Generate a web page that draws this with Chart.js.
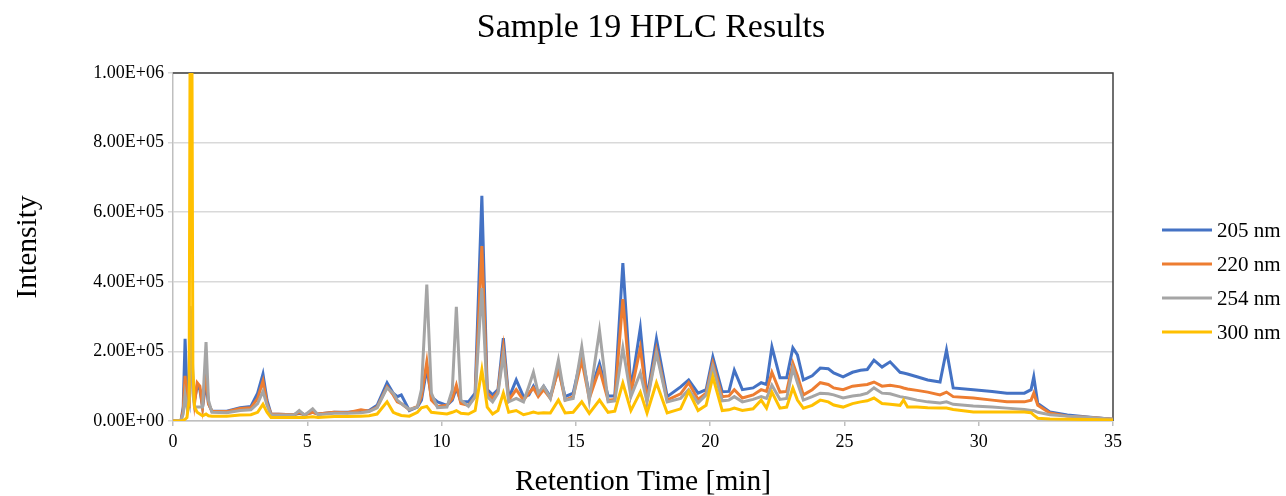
<!DOCTYPE html>
<html>
<head>
<meta charset="utf-8">
<title>Sample 19 HPLC Results</title>
<script src="https://cdn.jsdelivr.net/npm/chart.js@4.4.0/dist/chart.umd.min.js"></script>
<style>
  html, body { margin: 0; padding: 0; background: #fff; }
  #wrap { width: 1286px; height: 496px; }
</style>
</head>
<body>
<div id="wrap"><canvas id="hplcChart" width="1286" height="496"></canvas></div>
<script>
// retention time [min] of each sampled point
const retentionTime = [
  0.00, 0.30, 0.38, 0.45, 0.52, 0.60, 0.64, 0.70, 0.74, 0.80, 0.90,
  1.00, 1.10, 1.23, 1.32, 1.45, 2.00, 2.50, 2.90, 3.15, 3.35,
  3.50, 3.65, 4.50, 4.70, 4.90, 5.20, 5.40, 6.00, 6.50, 7.00,
  7.30, 7.60, 7.97, 8.20, 8.35, 8.50, 8.80, 9.10, 9.25, 9.45,
  9.62, 9.85, 10.20, 10.40, 10.55, 10.72, 11.00, 11.25, 11.50, 11.70,
  11.90, 12.10, 12.30, 12.50, 12.78, 13.05, 13.25, 13.42, 13.60, 13.80,
  14.05, 14.35, 14.60, 14.90, 15.22, 15.50, 15.88, 16.20, 16.45, 16.75,
  17.05, 17.40, 17.65, 18.00, 18.40, 18.90, 19.20, 19.55, 19.85, 20.10,
  20.45, 20.70, 20.90, 21.20, 21.60, 21.90, 22.10, 22.30, 22.60, 22.85,
  23.08, 23.25, 23.47, 23.80, 24.10, 24.40, 24.60, 24.95, 25.30, 25.60,
  25.85, 26.10, 26.40, 26.70, 27.07, 27.20, 27.35, 27.70, 28.10, 28.56,
  28.80, 29.05, 29.80, 30.50, 31.05, 31.70, 31.95, 32.05, 32.20, 32.65,
  33.30, 34.15, 35.00
];

const nm205 = [
  0, 2000, 40000, 236000, 90000, 60000, 250000, 250000, 120000, 60000, 100000,
  90000, 40000, 110000, 50000, 28000, 28000, 38000, 42000, 80000, 135000,
  60000, 20000, 18000, 22000, 18000, 25000, 20000, 25000, 25000, 28000,
  30000, 45000, 110000, 80000, 70000, 75000, 30000, 40000, 60000, 150000,
  70000, 55000, 45000, 60000, 95000, 55000, 55000, 80000, 647000, 90000,
  75000, 90000, 238000, 65000, 118000, 70000, 75000, 100000, 75000, 100000,
  70000, 150000, 70000, 80000, 190000, 75000, 165000, 72000, 72000, 454000,
  90000, 267000, 66000, 236000, 70000, 98000, 118000, 80000, 90000, 184000,
  84000, 85000, 146000, 90000, 95000, 110000, 105000, 213000, 124000, 124000,
  210000, 190000, 118000, 130000, 152000, 150000, 138000, 127000, 140000, 146000,
  148000, 175000, 155000, 170000, 140000, 138000, 135000, 127000, 118000, 112000,
  204000, 95000, 90000, 85000, 80000, 80000, 90000, 127000, 50000, 26000,
  17000, 11000, 5000
];

const nm220 = [
  0, 2000, 30000, 130000, 60000, 50000, 250000, 200000, 100000, 50000, 110000,
  100000, 40000, 140000, 50000, 28000, 27000, 36000, 38000, 65000, 115000,
  50000, 20000, 18000, 25000, 18000, 25000, 20000, 25000, 24000, 32000,
  28000, 40000, 98000, 75000, 55000, 50000, 32000, 42000, 70000, 170000,
  60000, 42000, 45000, 65000, 103000, 50000, 45000, 70000, 503000, 80000,
  65000, 85000, 210000, 60000, 90000, 60000, 80000, 95000, 70000, 90000,
  65000, 150000, 60000, 70000, 175000, 65000, 150000, 60000, 62000, 350000,
  80000, 210000, 60000, 205000, 60000, 78000, 110000, 62000, 80000, 166000,
  70000, 72000, 90000, 66000, 75000, 90000, 85000, 140000, 83000, 85000,
  166000, 130000, 75000, 90000, 110000, 105000, 95000, 90000, 100000, 103000,
  105000, 112000, 100000, 103000, 98000, 95000, 92000, 88000, 83000, 75000,
  83000, 70000, 66000, 60000, 55000, 55000, 60000, 80000, 45000, 23000,
  14000, 10000, 5000
];

const nm254 = [
  0, 2000, 20000, 75000, 40000, 60000, 330000, 250000, 80000, 40000, 40000,
  40000, 40000, 227000, 60000, 25000, 24000, 30000, 32000, 50000, 85000,
  45000, 17000, 17000, 30000, 17000, 35000, 18000, 22000, 22000, 24000,
  27000, 38000, 95000, 80000, 60000, 50000, 33000, 40000, 90000, 392000,
  80000, 38000, 40000, 90000, 328000, 60000, 42000, 70000, 382000, 70000,
  55000, 80000, 190000, 55000, 65000, 55000, 100000, 140000, 80000, 100000,
  65000, 175000, 60000, 65000, 213000, 60000, 260000, 55000, 58000, 210000,
  70000, 138000, 55000, 195000, 55000, 65000, 90000, 52000, 75000, 155000,
  58000, 60000, 70000, 55000, 62000, 70000, 65000, 103000, 62000, 65000,
  152000, 110000, 60000, 70000, 80000, 78000, 75000, 66000, 72000, 75000,
  80000, 95000, 80000, 78000, 70000, 68000, 66000, 60000, 55000, 52000,
  55000, 48000, 43000, 40000, 37000, 33000, 30000, 30000, 25000, 18000,
  14000, 10000, 5000
];

const nm300 = [
  0, 1000, 2000, 5000, 10000, 60000, 1200000, 1200000, 150000, 40000, 25000,
  20000, 15000, 20000, 15000, 14000, 14000, 17000, 18000, 25000, 48000,
  25000, 10000, 10000, 11000, 10000, 12000, 10000, 13000, 13000, 14000,
  15000, 20000, 55000, 25000, 20000, 16000, 14000, 25000, 38000, 42000,
  25000, 23000, 20000, 25000, 30000, 22000, 20000, 30000, 147000, 40000,
  20000, 30000, 80000, 25000, 30000, 18000, 22000, 26000, 22000, 24000,
  23000, 60000, 23000, 25000, 55000, 22000, 60000, 25000, 28000, 109000,
  30000, 83000, 23000, 110000, 23000, 35000, 85000, 30000, 45000, 127000,
  30000, 32000, 37000, 30000, 35000, 60000, 37000, 83000, 37000, 40000,
  95000, 60000, 37000, 45000, 60000, 55000, 46000, 40000, 50000, 55000,
  58000, 66000, 50000, 48000, 45000, 60000, 40000, 40000, 38000, 37000,
  37000, 33000, 26000, 26000, 26000, 26000, 24000, 17000, 8000, 6000,
  5000, 4000, 3000
];

const seriesNames = ["205 nm", "220 nm", "254 nm", "300 nm"];
const seriesColors = ["#4472C4", "#ED7D31", "#A5A5A5", "#FFC000"];
const seriesValues = [nm205, nm220, nm254, nm300];

const xTicks = [0, 5, 10, 15, 20, 25, 30, 35];
const yTicks = [0, 200000, 400000, 600000, 800000, 1000000];

const serif = "'Liberation Serif', 'Times New Roman', serif";

// 1000000 -> "1.00E+06"
function sci(v) {
  if (v === 0) return "0.00E+00";
  const e = Math.floor(Math.log10(Math.abs(v)));
  const m = v / Math.pow(10, e);
  return m.toFixed(2) + "E" + (e < 0 ? "-" : "+") + String(Math.abs(e)).padStart(2, "0");
}

// top/right frame of the plot area
const plotFrame = {
  id: "plotFrame",
  beforeDatasetsDraw(chart) {
    const { ctx, chartArea: a } = chart;
    ctx.save();
    ctx.strokeStyle = "#404040";
    ctx.lineWidth = 1.5;
    ctx.beginPath();
    ctx.moveTo(a.left, a.top);
    ctx.lineTo(a.right, a.top);
    ctx.lineTo(a.right, a.bottom);
    ctx.stroke();
    ctx.restore();
  }
};

// line legend in the space kept free on the right
const sideLegend = {
  id: "sideLegend",
  afterDraw(chart) {
    const { ctx } = chart;
    ctx.save();
    ctx.font = "21px " + serif;
    ctx.textBaseline = "middle";
    ctx.textAlign = "left";
    chart.data.datasets.forEach((ds, i) => {
      const y = 230 + i * 34;
      ctx.strokeStyle = ds.borderColor;
      ctx.lineWidth = 3;
      ctx.beginPath();
      ctx.moveTo(1162, y);
      ctx.lineTo(1212, y);
      ctx.stroke();
      ctx.fillStyle = "#000";
      ctx.fillText(ds.label, 1217, y + 1);
    });
    ctx.restore();
  }
};

const datasets = seriesNames.map((name, i) => ({
  label: name,
  data: retentionTime.map((t, j) => ({ x: t, y: seriesValues[i][j] })),
  borderColor: seriesColors[i],
  backgroundColor: seriesColors[i],
  borderWidth: 3,
  pointRadius: 0,
  tension: 0,
  order: seriesNames.length - 1 - i
}));

new Chart(document.getElementById("hplcChart").getContext("2d"), {
  type: "line",
  data: { datasets },
  options: {
    responsive: false,
    animation: false,
    events: [],
    layout: { padding: { left: 16, right: 0, top: 0, bottom: 0 } },
    plugins: {
      legend: { display: false },
      tooltip: { enabled: false },
      title: {
        display: true,
        text: "Sample 19 HPLC Results",
        color: "#000",
        font: { family: serif, size: 34, weight: "normal", lineHeight: 1.2 },
        padding: { top: 8, bottom: 24.2 }
      }
    },
    scales: {
      x: {
        type: "linear",
        min: 0,
        max: 35,
        afterFit(scale) { scale.height = 75; },
        afterBuildTicks(scale) { scale.ticks = xTicks.map(v => ({ value: v })); },
        grid: { drawOnChartArea: false, drawTicks: true, tickLength: 5, color: "#BFBFBF", lineWidth: 1.5 },
        border: { color: "#BFBFBF", width: 1.5 },
        ticks: { color: "#000", padding: 5, maxRotation: 0, font: { family: serif, size: 18 } },
        title: {
          display: true,
          text: "Retention Time [min]",
          color: "#000",
          font: { family: serif, size: 29.5, lineHeight: 0.9 },
          padding: { top: 0, bottom: 0 }
        }
      },
      y: {
        type: "linear",
        min: 0,
        max: 1000000,
        afterFit(scale) { scale.width = 157; },
        afterBuildTicks(scale) { scale.ticks = yTicks.map(v => ({ value: v })); },
        grid: { drawOnChartArea: true, drawTicks: true, tickLength: 5, color: "#D9D9D9", lineWidth: 1.5 },
        border: { color: "#BFBFBF", width: 1.5 },
        ticks: { color: "#000", padding: 4, font: { family: serif, size: 18 }, callback: v => sci(v) },
        title: {
          display: true,
          text: "Intensity",
          color: "#000",
          font: { family: serif, size: 29.5, lineHeight: 0.8 },
          padding: { top: 0, bottom: 0 }
        }
      },
      // empty axis on the right that only reserves room for the legend
      legendSpace: {
        type: "linear",
        position: "right",
        min: 0,
        max: 1,
        afterFit(scale) { scale.width = 173; },
        grid: { display: false, drawTicks: false },
        border: { display: false },
        ticks: { display: false }
      }
    }
  },
  plugins: [plotFrame, sideLegend]
});
</script>
</body>
</html>
